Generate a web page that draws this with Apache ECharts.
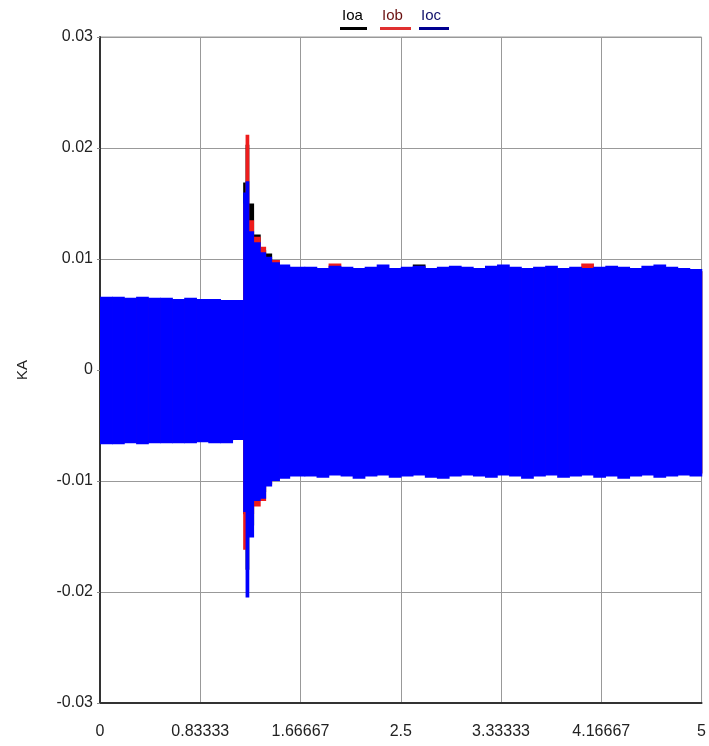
<!DOCTYPE html>
<html>
<head>
<meta charset="utf-8">
<script src="https://cdn.jsdelivr.net/npm/echarts@6/dist/echarts.min.js"></script>
<style>html,body{margin:0;padding:0;background:#fff}#c{width:709px;height:746px}</style>
</head>
<body>
<div id="c"></div>
<script>
// time bin edges (s)
const binEdges = [0,0.1,0.2,0.3,0.4,0.5,0.6,0.7,0.8,0.9,1.0,1.1,1.19,
  1.21,1.235,1.275,1.33,1.375,1.425,1.49,1.575,1.7,
  1.8,1.9,2.0,2.1,2.2,2.3,2.4,2.5,2.6,2.7,2.8,2.9,3.0,3.1,3.2,3.3,3.4,3.5,3.6,3.7,3.8,3.9,4.0,4.1,4.2,4.3,4.4,4.5,4.6,4.7,4.8,4.9,5.0];

const seriesNames = ['Ioa','Iob','Ioc'];

// envelope maxima / minima of each current per bin (kA)
const ioaMax = [0.0064,0.0064,0.0063,0.0064,0.0063,0.0063,0.0063,0.0063,0.0062,0.0063,0.0062,0.0061,
  0.0169,0.0203,0.0150,0.0122,0.0108,0.0105,0.0097,0.0093,0.0091,
  0.0091,0.0090,0.0091,0.0090,0.0091,0.0092,0.0090,0.0091,0.0090,0.0095,0.0090,0.0091,0.0090,0.0091,0.0090,0.0091,0.0090,0.0091,0.0090,0.0091,0.0090,0.0091,0.0090,0.0091,0.0090,0.0091,0.0090,0.0091,0.0090,0.0091,0.0090,0.0090,0.0089];
const ioaMin = [-0.0065,-0.0065,-0.0064,-0.0065,-0.0064,-0.0064,-0.0064,-0.0064,-0.0063,-0.0064,-0.0064,-0.0061,
  -0.0130,-0.0180,-0.0140,-0.0115,-0.0110,-0.0100,-0.0098,-0.0095,-0.0094,
  -0.0094,-0.0094,-0.0093,-0.0094,-0.0094,-0.0093,-0.0094,-0.0094,-0.0093,-0.0094,-0.0094,-0.0093,-0.0094,-0.0094,-0.0093,-0.0094,-0.0094,-0.0093,-0.0094,-0.0094,-0.0093,-0.0094,-0.0094,-0.0093,-0.0094,-0.0094,-0.0093,-0.0094,-0.0094,-0.0093,-0.0094,-0.0094,-0.0093];
const iobMax = [0.0064,0.0063,0.0064,0.0063,0.0064,0.0063,0.0063,0.0062,0.0063,0.0062,0.0062,0.0061,
  0.0150,0.0212,0.0135,0.0120,0.0111,0.0100,0.0099,0.0093,0.0091,
  0.0091,0.0090,0.0096,0.0090,0.0091,0.0090,0.0091,0.0090,0.0091,0.0090,0.0091,0.0090,0.0091,0.0090,0.0091,0.0090,0.0091,0.0090,0.0091,0.0090,0.0091,0.0090,0.0091,0.0096,0.0091,0.0090,0.0091,0.0090,0.0091,0.0090,0.0091,0.0090,0.0089];
const iobMin = [-0.0065,-0.0064,-0.0065,-0.0064,-0.0065,-0.0064,-0.0064,-0.0064,-0.0063,-0.0064,-0.0064,-0.0061,
  -0.0162,-0.0150,-0.0130,-0.0123,-0.0118,-0.0103,-0.0098,-0.0095,-0.0094,
  -0.0094,-0.0093,-0.0094,-0.0094,-0.0093,-0.0094,-0.0094,-0.0093,-0.0094,-0.0094,-0.0093,-0.0094,-0.0094,-0.0093,-0.0094,-0.0094,-0.0093,-0.0094,-0.0094,-0.0093,-0.0094,-0.0094,-0.0093,-0.0094,-0.0094,-0.0093,-0.0094,-0.0094,-0.0093,-0.0094,-0.0094,-0.0093,-0.0094];
const iocMax = [0.0066,0.0066,0.0065,0.0066,0.0065,0.0065,0.0064,0.0065,0.0064,0.0064,0.0063,0.0063,
  0.0160,0.0170,0.0125,0.0115,0.0106,0.0102,0.0097,0.0095,0.0093,
  0.0093,0.0092,0.0094,0.0093,0.0092,0.0093,0.0095,0.0092,0.0093,0.0094,0.0092,0.0093,0.0094,0.0093,0.0092,0.0094,0.0095,0.0093,0.0092,0.0093,0.0094,0.0092,0.0093,0.0092,0.0093,0.0094,0.0093,0.0092,0.0094,0.0095,0.0093,0.0092,0.0091];
const iocMin = [-0.0067,-0.0067,-0.0066,-0.0067,-0.0066,-0.0066,-0.0066,-0.0066,-0.0065,-0.0066,-0.0066,-0.0063,
  -0.0128,-0.0205,-0.0151,-0.0118,-0.0116,-0.0105,-0.0100,-0.0098,-0.0096,
  -0.0096,-0.0097,-0.0095,-0.0096,-0.0098,-0.0096,-0.0095,-0.0097,-0.0096,-0.0095,-0.0097,-0.0098,-0.0096,-0.0095,-0.0096,-0.0097,-0.0095,-0.0096,-0.0098,-0.0096,-0.0095,-0.0097,-0.0096,-0.0095,-0.0097,-0.0096,-0.0098,-0.0096,-0.0095,-0.0097,-0.0096,-0.0095,-0.0096];

const xTickLabels = ['0','0.83333','1.66667','2.5','3.33333','4.16667','5'];
const yTickLabels = ['-0.03','-0.02','-0.01','0','0.01','0.02','0.03'];

const seriesColors = ['#000000','#ee1c1c','#0000ff'];
const underlineColors = ['#000000','#e03030','#000090'];
const legendTextColors = ['#000000','#6a1010','#10106a'];

function buildData(maxArr, minArr) {
  const d = [];
  for (let i = 0; i < maxArr.length; i++) d.push([binEdges[i], binEdges[i+1], minArr[i], maxArr[i]]);
  return d;
}
const envelopes = [[ioaMax, ioaMin],[iobMax, iobMin],[iocMax, iocMin]];

const chart = echarts.init(document.getElementById('c'), null, {renderer:'canvas'});
const font = 'Liberation Sans, Arial, sans-serif';

const series = envelopes.map((env, k) => ({
  name: seriesNames[k],
  type: 'custom',
  z: 2 + k,
  renderItem: function (params, api) {
    const p0 = api.coord([api.value(0), api.value(3)]);
    const p1 = api.coord([api.value(1), api.value(2)]);
    return {
      type: 'rect',
      shape: {x: p0[0], y: p0[1], width: p1[0] - p0[0] + 0.7, height: p1[1] - p0[1]},
      style: {fill: seriesColors[k]}
    };
  },
  encode: {x: [0, 1], y: [2, 3]},
  data: buildData(env[0], env[1])
}));

const legendX = [340, 380, 419];
const legendW = [27, 31, 30];
const graphics = [];
seriesNames.forEach((n, k) => {
  graphics.push({type:'text', left: legendX[k] + 2, top: 8,
    style:{text:n, font:'15px ' + font, fill: legendTextColors[k]}});
  graphics.push({type:'rect', left: legendX[k], top: 27,
    shape:{width: legendW[k], height: 3}, style:{fill: underlineColors[k]}});
});

chart.setOption({
  animation: false,
  backgroundColor: '#ffffff',
  grid: {left: 100, right: 6, top: 37, bottom: 43, show: true, borderColor: '#999999', borderWidth: 1},
  xAxis: {
    type: 'value', min: 0, max: 5, interval: 5/6,
    axisLine: {show: true, onZero: false, lineStyle: {color: '#333333', width: 2}},
    axisTick: {show: false},
    axisLabel: {color: '#222222', fontFamily: font, fontSize: 16, margin: 21,
      formatter: v => xTickLabels[Math.round(v * 6 / 5)]},
    splitLine: {show: true, lineStyle: {color: '#999999', width: 1}}
  },
  yAxis: {
    type: 'value', min: -0.03, max: 0.03, interval: 0.01,
    name: 'KA', nameLocation: 'middle', nameGap: 70, nameRotate: 90,
    nameTextStyle: {color: '#222222', fontFamily: font, fontSize: 15},
    axisLine: {show: true, onZero: false, lineStyle: {color: '#333333', width: 2}},
    axisTick: {show: true, length: 3, lineStyle: {color: '#888888'}},
    axisLabel: {color: '#222222', fontFamily: font, fontSize: 16, margin: 7,
      formatter: v => yTickLabels[Math.round(v * 100) + 3]},
    splitLine: {show: true, lineStyle: {color: '#999999', width: 1}}
  },
  graphic: graphics,
  series: series
});
</script>
</body>
</html>
